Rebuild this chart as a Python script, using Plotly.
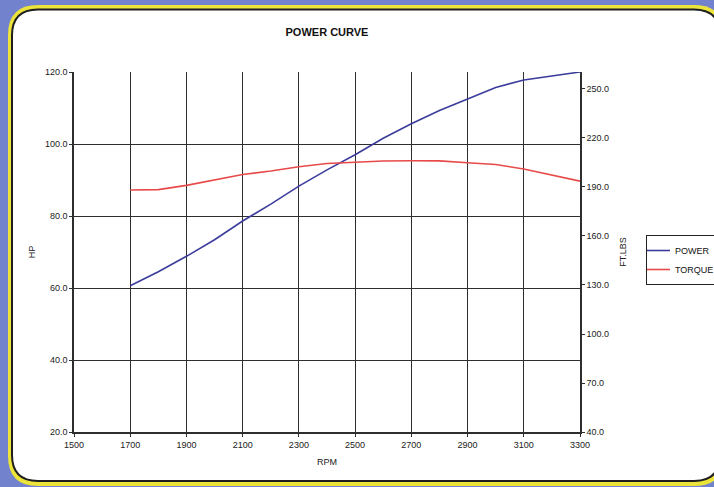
import plotly.graph_objects as go

rpm = [1700, 1800, 1900, 2000, 2100, 2200, 2300, 2400, 2500, 2600, 2700, 2800, 2900, 3000, 3100, 3200, 3300]
power_hp = [60.6, 64.5, 68.8, 73.4, 78.6, 83.3, 88.3, 92.8, 97.0, 101.6, 105.6, 109.3, 112.5, 115.7, 117.8, 118.8, 120.0]
torque_ftlbs = [188.2, 188.4, 191.0, 194.2, 197.6, 199.8, 202.4, 204.4, 205.3, 205.9, 206.1, 206.0, 204.8, 203.8, 201.0, 197.5, 193.6]

W, H = 714, 487
ML, MR, MT, MB = 74, 134, 72, 55
PW, PH = W - ML - MR, H - MT - MB

FONT = "Liberation Sans, Arial, sans-serif"


def px(x):
    return (x - ML) / PW


def py(y):
    return 1 - (y - MT) / PH


def rrect(x0, y0, x1, y1, r):
    pts = [
        ("M", [(x0 + r, y0)]),
        ("L", [(x1 - r, y0)]),
        ("Q", [(x1, y0), (x1, y0 + r)]),
        ("L", [(x1, y1 - r)]),
        ("Q", [(x1, y1), (x1 - r, y1)]),
        ("L", [(x0 + r, y1)]),
        ("Q", [(x0, y1), (x0, y1 - r)]),
        ("L", [(x0, y0 + r)]),
        ("Q", [(x0, y0), (x0 + r, y0)]),
    ]
    s = ""
    for cmd, ps in pts:
        s += cmd + " " + " ".join(f"{px(a):.5f},{py(b):.5f}" for a, b in ps) + " "
    return s + "Z"


fig = go.Figure()
fig.add_trace(go.Scatter(x=rpm, y=power_hp, name="POWER", mode="lines",
                         line=dict(color="#3c3c9c", width=1.6)))
fig.add_trace(go.Scatter(x=rpm, y=torque_ftlbs, name="TORQUE", mode="lines", yaxis="y2",
                         line=dict(color="#e84a4a", width=1.6)))

shapes = [
    dict(type="path", xref="paper", yref="paper", layer="below",
         path=rrect(8, 5, 724, 486, 30), fillcolor="#ece43a", line=dict(width=0)),
    dict(type="path", xref="paper", yref="paper", layer="below",
         path=rrect(12, 9.5, 720, 481, 26), fillcolor="#ffffff",
         line=dict(color="#1e1e1e", width=2)),
]

fig.update_layout(
    width=W, height=H,
    margin=dict(l=ML, r=MR, t=MT, b=MB, autoexpand=False),
    paper_bgcolor="#7282cc",
    plot_bgcolor="rgba(0,0,0,0)",
    shapes=shapes,
    font=dict(family=FONT, size=9, color="#222222"),
    title=dict(text="<b>POWER CURVE</b>", x=327 / W, xanchor="center",
               y=1 - 32 / H, yanchor="middle", font=dict(size=11, color="#111111")),
    xaxis=dict(range=[1500, 3300], tick0=1500, dtick=200, showgrid=True,
               gridcolor="#2e2e2e", gridwidth=1.4, showline=True, linecolor="#2e2e2e",
               linewidth=1.5, ticks="outside", ticklen=3, tickcolor="#2e2e2e",
               zeroline=False, tickfont=dict(size=9),
               title=dict(text="RPM", font=dict(size=9), standoff=10)),
    yaxis=dict(range=[20, 120], tick0=20, dtick=20, tickformat=".1f", showgrid=True,
               gridcolor="#2e2e2e", gridwidth=1.4, showline=True, linecolor="#2e2e2e",
               linewidth=1.5, ticks="outside", ticklen=3, tickcolor="#2e2e2e",
               zeroline=False, tickfont=dict(size=9),
               title=dict(text="HP", font=dict(size=9), standoff=8)),
    yaxis2=dict(range=[40, 260.4], tick0=40, dtick=30, tickformat=".1f", overlaying="y",
                side="right", showgrid=False, showline=True, linecolor="#2e2e2e",
                linewidth=1.5, ticks="outside", ticklen=3, tickcolor="#2e2e2e",
                zeroline=False, tickfont=dict(size=9),
                title=dict(text="FT.LBS", font=dict(size=9), standoff=12)),
    legend=dict(x=px(646), y=py(235), xanchor="left", yanchor="top",
                bgcolor="#ffffff", bordercolor="#222222", borderwidth=1,
                font=dict(size=9, color="#111111"), tracegroupgap=0,
                itemwidth=30, indentation=-12),
    showlegend=True,
)

fig.write_html("out.html", config={"displayModeBar": False},
               post_script="document.body.style.margin='0';document.body.style.overflow='hidden';")
